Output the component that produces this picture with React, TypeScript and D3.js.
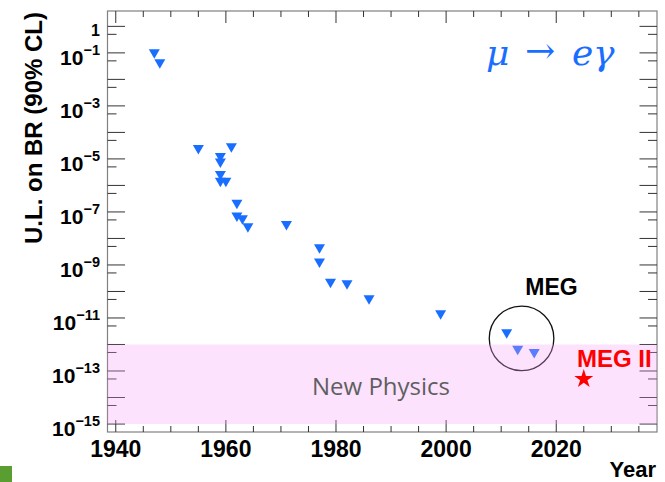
import React from 'react';
import * as d3 from 'd3';

// upper limits on BR(mu -> e gamma), 90% CL
const years = [1947, 1948, 1955, 1959, 1959, 1959, 1959, 1960, 1961, 1962, 1962, 1963, 1964, 1971, 1977, 1977, 1979, 1982, 1986, 1999, 2011, 2013, 2016];
const limits = [9e-2, 3.8e-2, 2.2e-5, 1.1e-5, 6.8e-6, 2.3e-6, 1.3e-6, 1.3e-6, 2.6e-5, 1.9e-7, 6.3e-8, 5e-8, 2.5e-8, 3e-8, 4e-9, 1.15e-9, 2e-10, 1.75e-10, 4.8e-11, 1.3e-11, 2.5e-12, 5.9e-13, 4.5e-13];

const megIIYear = 2025;
const megIILimit = 5e-14;

const megCircle = { year: 2013.7, value: 1.7e-12 };
const newPhysics = [1e-12, 1e-15];

const yearTicks = [1940, 1960, 1980, 2000, 2020];
const decadeExps = d3.range(-15, 1);

const W = 665;
const H = 482;
const font = '"Liberation Sans", Arial, sans-serif';
const blue = '#1a6eff';

const App = () => {
    const x = d3.scaleLinear().domain([1938.5, 2038.3]).range([107.5, 657]);
    const y = d3.scaleLog().domain([5e-16, 3.8]).range([432, 11]);

    const [x0, x1] = x.range();
    const [yb, yt] = y.range();

    const minorYears = d3.range(1940, 2039, 5);
    const minorY = d3.range(-15, 0).map((k) => 5 * Math.pow(10, k));
    const majorY = decadeExps.map((k) => Math.pow(10, k));

    const tri = (cx, cy) =>
        `M${cx - 5.5},${cy - 4.75}L${cx + 5.5},${cy - 4.75}L${cx},${cy + 4.75}Z`;

    const star = d3.symbol(d3.symbolStar, 112)();

    return (
        <svg width={W} height={H} style={{ position: 'absolute', left: 0, top: 0 }}>
            <rect x={0} y={0} width={W} height={H} fill="#fff" />

            {/* frame */}
            <rect x={x0} y={yt} width={x1 - x0} height={yb - yt} fill="none" stroke="#808080" strokeWidth={1.2} />

            {/* x ticks, bottom and top */}
            {minorYears.map((yr) => {
                const len = yr % 20 === 0 ? 12 : 6;
                return (
                    <g key={'xt' + yr} stroke="#333" strokeWidth={1}>
                        <line x1={x(yr)} x2={x(yr)} y1={yb} y2={yb - len} />
                        <line x1={x(yr)} x2={x(yr)} y1={yt} y2={yt + len} />
                    </g>
                );
            })}

            {/* y ticks, left and right */}
            {majorY.map((v) => (
                <g key={'ym' + v} stroke="#333" strokeWidth={1}>
                    <line x1={x0} x2={x0 + 17.5} y1={y(v)} y2={y(v)} />
                    <line x1={x1} x2={x1 - 17.5} y1={y(v)} y2={y(v)} />
                </g>
            ))}
            {minorY.map((v) => (
                <g key={'yn' + v} stroke="#333" strokeWidth={1}>
                    <line x1={x0} x2={x0 + 9} y1={y(v)} y2={y(v)} />
                    <line x1={x1} x2={x1 - 9} y1={y(v)} y2={y(v)} />
                </g>
            ))}

            {/* x labels */}
            {yearTicks.map((yr) => (
                <text key={'xl' + yr} x={x(yr)} y={456.5} textAnchor="middle"
                    fontFamily={font} fontWeight="bold" fontSize={23}>{yr}</text>
            ))}

            {/* y labels */}
            {decadeExps.filter((k) => k % 2 !== 0 || k === 0).map((k) =>
                k === 0 ? (
                    <text key="yl0" x={100} y={y(1) + 10} textAnchor="end"
                        fontFamily={font} fontWeight="bold" fontSize={16}>1</text>
                ) : (
                    <text key={'yl' + k} x={100} y={y(Math.pow(10, k)) + 12} textAnchor="end"
                        fontFamily={font} fontWeight="bold" fontSize={21}>
                        10<tspan dy={-10} fontSize={14.5}>{'\u2212' + -k}</tspan>
                    </text>
                )
            )}

            <text transform="translate(42,12) rotate(-90)" textAnchor="end"
                fontFamily={font} fontWeight="bold" fontSize={24}>U.L. on BR (90% CL)</text>

            <text x={656} y={476.5} textAnchor="end" fontFamily={font} fontWeight="bold" fontSize={22}>Year</text>

            {/* measurements */}
            {years.map((yr, i) => (
                <path key={'p' + i} d={tri(x(yr), y(limits[i]))} fill={blue} />
            ))}

            <circle cx={x(megCircle.year)} cy={y(megCircle.value)} r={32.3}
                fill="none" stroke="#111" strokeWidth={1.3} />

            {/* new physics band, drawn over everything below it */}
            <rect x={x0} y={y(newPhysics[0])} width={x1 - x0} height={y(newPhysics[1]) - y(newPhysics[0])}
                fill="#f6a0f6" opacity={0.3} />

            <text x={312} y={395} fontFamily='"Open Sans", sans-serif' fontSize={24} fill="#5f5f5f">New Physics</text>

            <path d={star} transform={`translate(${x(megIIYear)},${y(megIILimit)})`} fill="#ff0000" />

            <text x={551.5} y={295} textAnchor="middle" fontFamily={font} fontWeight="bold" fontSize={23}>MEG</text>
            <text x={577} y={367} fontFamily={font} fontWeight="bold" fontSize={24} fill="#ff0000">MEG II</text>

            <g fontFamily='"DejaVu Serif", serif' fontSize={36} fill={blue}>
                <text x={486} y={65} fontStyle="italic">μ</text>
                <text x={525} y={63}>→</text>
                <text x={572} y={65} fontStyle="italic">e</text>
                <text x={593} y={65} fontStyle="italic">γ</text>
            </g>

            <rect x={0} y={466} width={12} height={16} fill="#5a9e32" />
        </svg>
    );
};

export default App;
